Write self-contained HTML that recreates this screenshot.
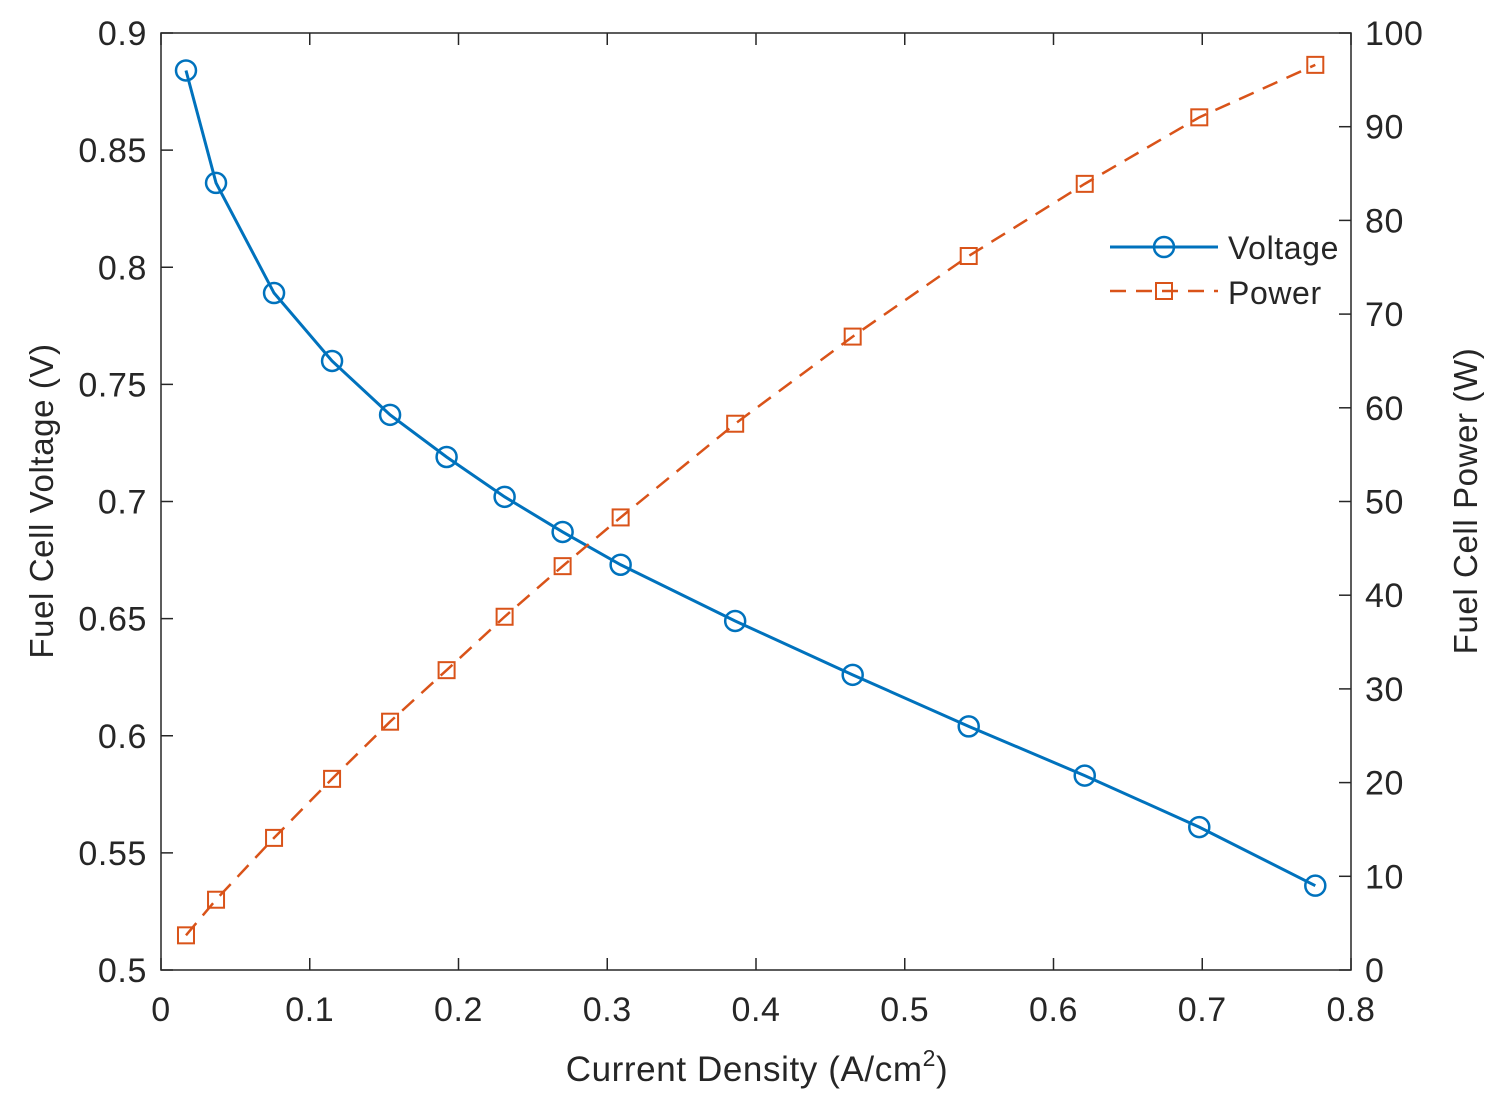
<!DOCTYPE html>
<html><head><meta charset="utf-8"><style>
body{margin:0;background:#fff;}
svg text{font-family:"Liberation Sans",sans-serif;fill:#262626;letter-spacing:0.6px;}
</style></head><body>
<svg id="chart" width="1491" height="1102" xmlns="http://www.w3.org/2000/svg"></svg>
<script>
const currentDensity=[0.0168,0.037,0.076,0.115,0.154,0.192,0.231,0.270,0.309,0.386,0.465,0.543,0.621,0.698,0.776];
const voltage=[0.884,0.836,0.789,0.760,0.737,0.719,0.702,0.687,0.673,0.649,0.626,0.604,0.583,0.561,0.536];
const power=[3.7,7.5,14.1,20.4,26.5,32.0,37.7,43.1,48.3,58.3,67.6,76.2,83.9,91.0,96.6];
const xTicks=[0,0.1,0.2,0.3,0.4,0.5,0.6,0.7,0.8];
const yLeftTicks=[0.5,0.55,0.6,0.65,0.7,0.75,0.8,0.85,0.9];
const yRightTicks=[0,10,20,30,40,50,60,70,80,90,100];

const L=161,R=1351,T=33,B=970;
const NS="http://www.w3.org/2000/svg";
const svg=document.getElementById('chart');
const X=v=>L+(v-0)/(0.8)*(R-L);
const YL=v=>B-(v-0.5)/(0.4)*(B-T);
const YR=v=>B-v/100*(B-T);
function el(tag,attrs,parent){const e=document.createElementNS(NS,tag);for(const k in attrs)e.setAttribute(k,attrs[k]);(parent||svg).appendChild(e);return e;}

const frame=el('rect',{x:L,y:T,width:R-L,height:B-T,fill:'none',stroke:'#262626','stroke-width':1.5});



xTicks.forEach(t=>{
  const x=X(t);
  el('line',{x1:x,y1:B,x2:x,y2:B-12,stroke:'#262626','stroke-width':1.5});
  el('line',{x1:x,y1:T,x2:x,y2:T+12,stroke:'#262626','stroke-width':1.5});
  const tx=el('text',{x:x,y:B+51,'font-size':34,'text-anchor':'middle'});
  tx.textContent=String(t);
  
  
});
yLeftTicks.forEach(t=>{
  const y=YL(t);
  el('line',{x1:L,y1:y,x2:L+12,y2:y,stroke:'#262626','stroke-width':1.5});
  const tx=el('text',{x:L-14,y:y+12,'font-size':34,'text-anchor':'end'});
  tx.textContent=String(t);
  
  
});
yRightTicks.forEach(t=>{
  const y=YR(t);
  el('line',{x1:R,y1:y,x2:R-12,y2:y,stroke:'#262626','stroke-width':1.5});
  const tx=el('text',{x:R+14,y:y+12,'font-size':34,'text-anchor':'start'});
  tx.textContent=String(t);
  
  
});

const xt=el('text',{x:757,y:1081,'font-size':35,'text-anchor':'middle'});
xt.innerHTML='Current Density (A/cm<tspan font-size="23" dy="-15">2</tspan><tspan dy="15">)</tspan>';


const yl=el('text',{x:0,y:0,'font-size':33,'text-anchor':'middle',transform:'translate(53,501) rotate(-90)'});
yl.textContent='Fuel Cell Voltage (V)';


const yr=el('text',{x:0,y:0,'font-size':33,'text-anchor':'middle',transform:'translate(1477,501) rotate(-90)'});
yr.textContent='Fuel Cell Power (W)';



const vPts=currentDensity.map((c,i)=>X(c)+','+YL(voltage[i])).join(' ');
const vl=el('polyline',{points:vPts,fill:'none',stroke:'#0072BD','stroke-width':3});


const pPts=currentDensity.map((c,i)=>X(c)+','+YR(power[i])).join(' ');
const pl=el('polyline',{points:pPts,fill:'none',stroke:'#D95319','stroke-width':2.5,'stroke-dasharray':'16,10'});



currentDensity.forEach((c,i)=>{
  const m=el('circle',{cx:X(c),cy:YL(voltage[i]),r:10,fill:'none',stroke:'#0072BD','stroke-width':2.5});
  
  
  const s=el('rect',{x:X(c)-8,y:YR(power[i])-8,width:16,height:16,fill:'none',stroke:'#D95319','stroke-width':2});
  
  
});

const lg=el('g',{});


el('line',{x1:1110,y1:247,x2:1218,y2:247,stroke:'#0072BD','stroke-width':3},lg);
el('circle',{cx:1164,cy:247,r:10,fill:'none',stroke:'#0072BD','stroke-width':2.5},lg);
const t1=el('text',{x:1228,y:259,'font-size':32},lg);t1.textContent='Voltage';
el('line',{x1:1110,y1:291,x2:1218,y2:291,stroke:'#D95319','stroke-width':2.5,'stroke-dasharray':'16,10'},lg);
el('rect',{x:1156,y:283,width:16,height:16,fill:'none',stroke:'#D95319','stroke-width':2},lg);
const t2=el('text',{x:1228,y:304,'font-size':32},lg);t2.textContent='Power';
</script>
</body></html>
